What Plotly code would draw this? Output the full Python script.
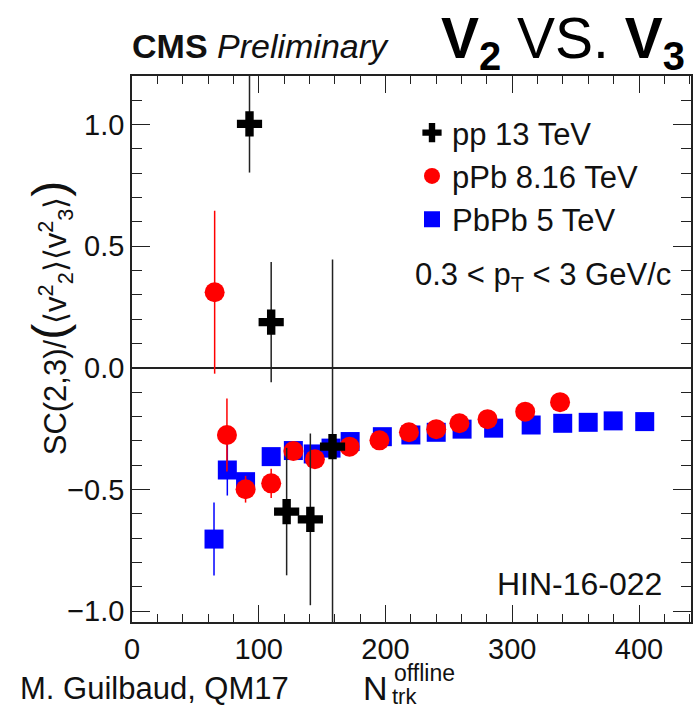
import plotly.graph_objects as go

# ---- data ----
pp_x = [92.7, 109.8, 122.0, 140.7, 158.2]
pp_y = [1.003, 0.188, -0.591, -0.623, -0.324]
pp_err = [0.20, 0.247, 0.262, 0.353, 0.77]

ppb_x = [65.2, 74.9, 89.6, 109.8, 127.3, 144.3, 171.6, 195.2, 218.5, 240.0, 258.3, 280.5, 310.2, 337.7]
ppb_y = [0.311, -0.276, -0.499, -0.475, -0.342, -0.376, -0.324, -0.298, -0.265, -0.252, -0.228, -0.211, -0.180, -0.141]
ppb_err = [0.335, 0.15, 0.055, 0.06, 0.03, 0.03, 0.02, 0.02, 0.02, 0.015, 0.015, 0.015, 0.015, 0.015]

pbpb_x = [64.7, 75.2, 89.6, 109.8, 127.3, 143.0, 157.0, 172.1, 197.5, 220.0, 240.0, 260.4, 285.3, 314.9, 339.8, 359.9, 379.6, 404.5]
pbpb_y = [-0.704, -0.42, -0.468, -0.365, -0.340, -0.354, -0.33, -0.303, -0.283, -0.276, -0.265, -0.252, -0.248, -0.235, -0.228, -0.224, -0.218, -0.221]
pbpb_err = [0.15, 0.105, 0.03, 0.02, 0.02, 0.02, 0.02, 0.01, 0.01, 0.01, 0.01, 0.01, 0.01, 0.01, 0.01, 0.01, 0.01, 0.01]

x_range = [0, 441]
y_range = [-1.045, 1.2]

FONT = "Liberation Sans, Arial, Helvetica, sans-serif"

fig = go.Figure()

fig.add_trace(go.Scatter(
    x=pbpb_x, y=pbpb_y, mode="markers", name="PbPb 5 TeV", legendgroup="c", legendrank=3,
    marker=dict(symbol="square", size=19, color="#0000ff", line=dict(width=0)),
    error_y=dict(type="data", array=pbpb_err, width=0, thickness=1.5, color="#0000ff"),
))
fig.add_trace(go.Scatter(
    x=ppb_x, y=ppb_y, mode="markers", name="pPb 8.16 TeV", legendgroup="b", legendrank=2,
    marker=dict(symbol="circle", size=20, color="#ff0000", line=dict(width=0)),
    error_y=dict(type="data", array=ppb_err, width=0, thickness=1.5, color="#ff0000"),
))
fig.add_trace(go.Scatter(
    x=pp_x, y=pp_y, mode="markers", name="pp 13 TeV", legendgroup="a", legendrank=1,
    marker=dict(symbol="cross", size=21, color="#000000", line=dict(width=0)),
    error_y=dict(type="data", array=pp_err, width=0, thickness=1.5, color="#222222"),
))

axis_common = dict(
    showline=True, linecolor="#222222", linewidth=1.5, mirror="ticks",
    ticks="inside", tickcolor="#222222", tickwidth=1.3,
    showgrid=False,
    tickfont=dict(family=FONT, size=29, color="#111111"),
)

fig.update_xaxes(
    range=x_range, dtick=100, tick0=0, ticklen=17, zeroline=False,
    minor=dict(dtick=20, ticklen=8, ticks="inside", tickcolor="#222222", tickwidth=1.3, showgrid=False),
    **axis_common,
)
fig.update_yaxes(
    range=y_range, dtick=0.5, tick0=0, ticklen=18, tickformat=".1f",
    zeroline=True, zerolinecolor="#222222", zerolinewidth=1.5,
    minor=dict(dtick=0.1, ticklen=10, ticks="inside", tickcolor="#222222", tickwidth=1.3, showgrid=False),
    **axis_common,
)

W, H = 694, 710
L, R, T, B = 132, 1, 76, 88
pw, ph = W - L - R, H - T - B

def px(x):
    return (x - L) / pw

def py(y):
    return (H - B - y) / ph

ann = []
ann.append(dict(text="<b>CMS</b> <i>Preliminary</i>", x=px(130), y=py(46), xanchor="left", yanchor="middle",
                font=dict(family=FONT, size=34, color="#111111")))
ann.append(dict(text="<b>V<sub>2</sub></b> VS. <b>V<sub>3</sub></b>", x=px(689), y=py(42), xanchor="right", yanchor="middle",
                font=dict(family=FONT, size=57, color="#000000")))
ann.append(dict(text="0.3 &lt; p<sub>T</sub> &lt; 3 GeV/c", x=px(414), y=py(277), xanchor="left", yanchor="middle",
                font=dict(family=FONT, size=31, color="#111111")))
ann.append(dict(text="HIN-16-022", x=px(666), y=py(584), xanchor="right", yanchor="middle",
                font=dict(family=FONT, size=32, color="#111111")))
ann.append(dict(text="M. Guilbaud, QM17", x=px(18), y=py(688), xanchor="left", yanchor="middle",
                font=dict(family=FONT, size=31, color="#111111")))
ann.append(dict(text="N", x=px(362), y=py(688), xanchor="left", yanchor="middle",
                font=dict(family=FONT, size=34, color="#111111")))
ann.append(dict(text="offline", x=px(393), y=py(673), xanchor="left", yanchor="middle",
                font=dict(family=FONT, size=23, color="#111111")))
ann.append(dict(text="trk", x=px(391), y=py(696), xanchor="left", yanchor="middle",
                font=dict(family=FONT, size=22, color="#111111")))
ann.append(dict(
    text="SC(2,3)/<span style='font-size:48px'>(</span>⟨v<sup>2</sup><sub>2</sub>⟩⟨v<sup>2</sup><sub>3</sub>⟩<span style='font-size:48px'>)</span>",
    x=px(50), y=py(318), xanchor="center", yanchor="middle", textangle=-90,
    font=dict(family=FONT, size=31, color="#111111")))

for a in ann:
    a.update(xref="paper", yref="paper", showarrow=False)

fig.update_layout(
    width=W, height=H,
    margin=dict(l=L, r=R, t=T, b=B),
    paper_bgcolor="white", plot_bgcolor="white",
    showlegend=True,
    legend=dict(x=px(413), y=py(106), xanchor="left", yanchor="top",
                bgcolor="rgba(0,0,0,0)", font=dict(family=FONT, size=31, color="#111111"),
                traceorder="grouped", tracegroupgap=0, itemsizing="trace"),
    annotations=ann,
)

fig.write_html("out.html")
